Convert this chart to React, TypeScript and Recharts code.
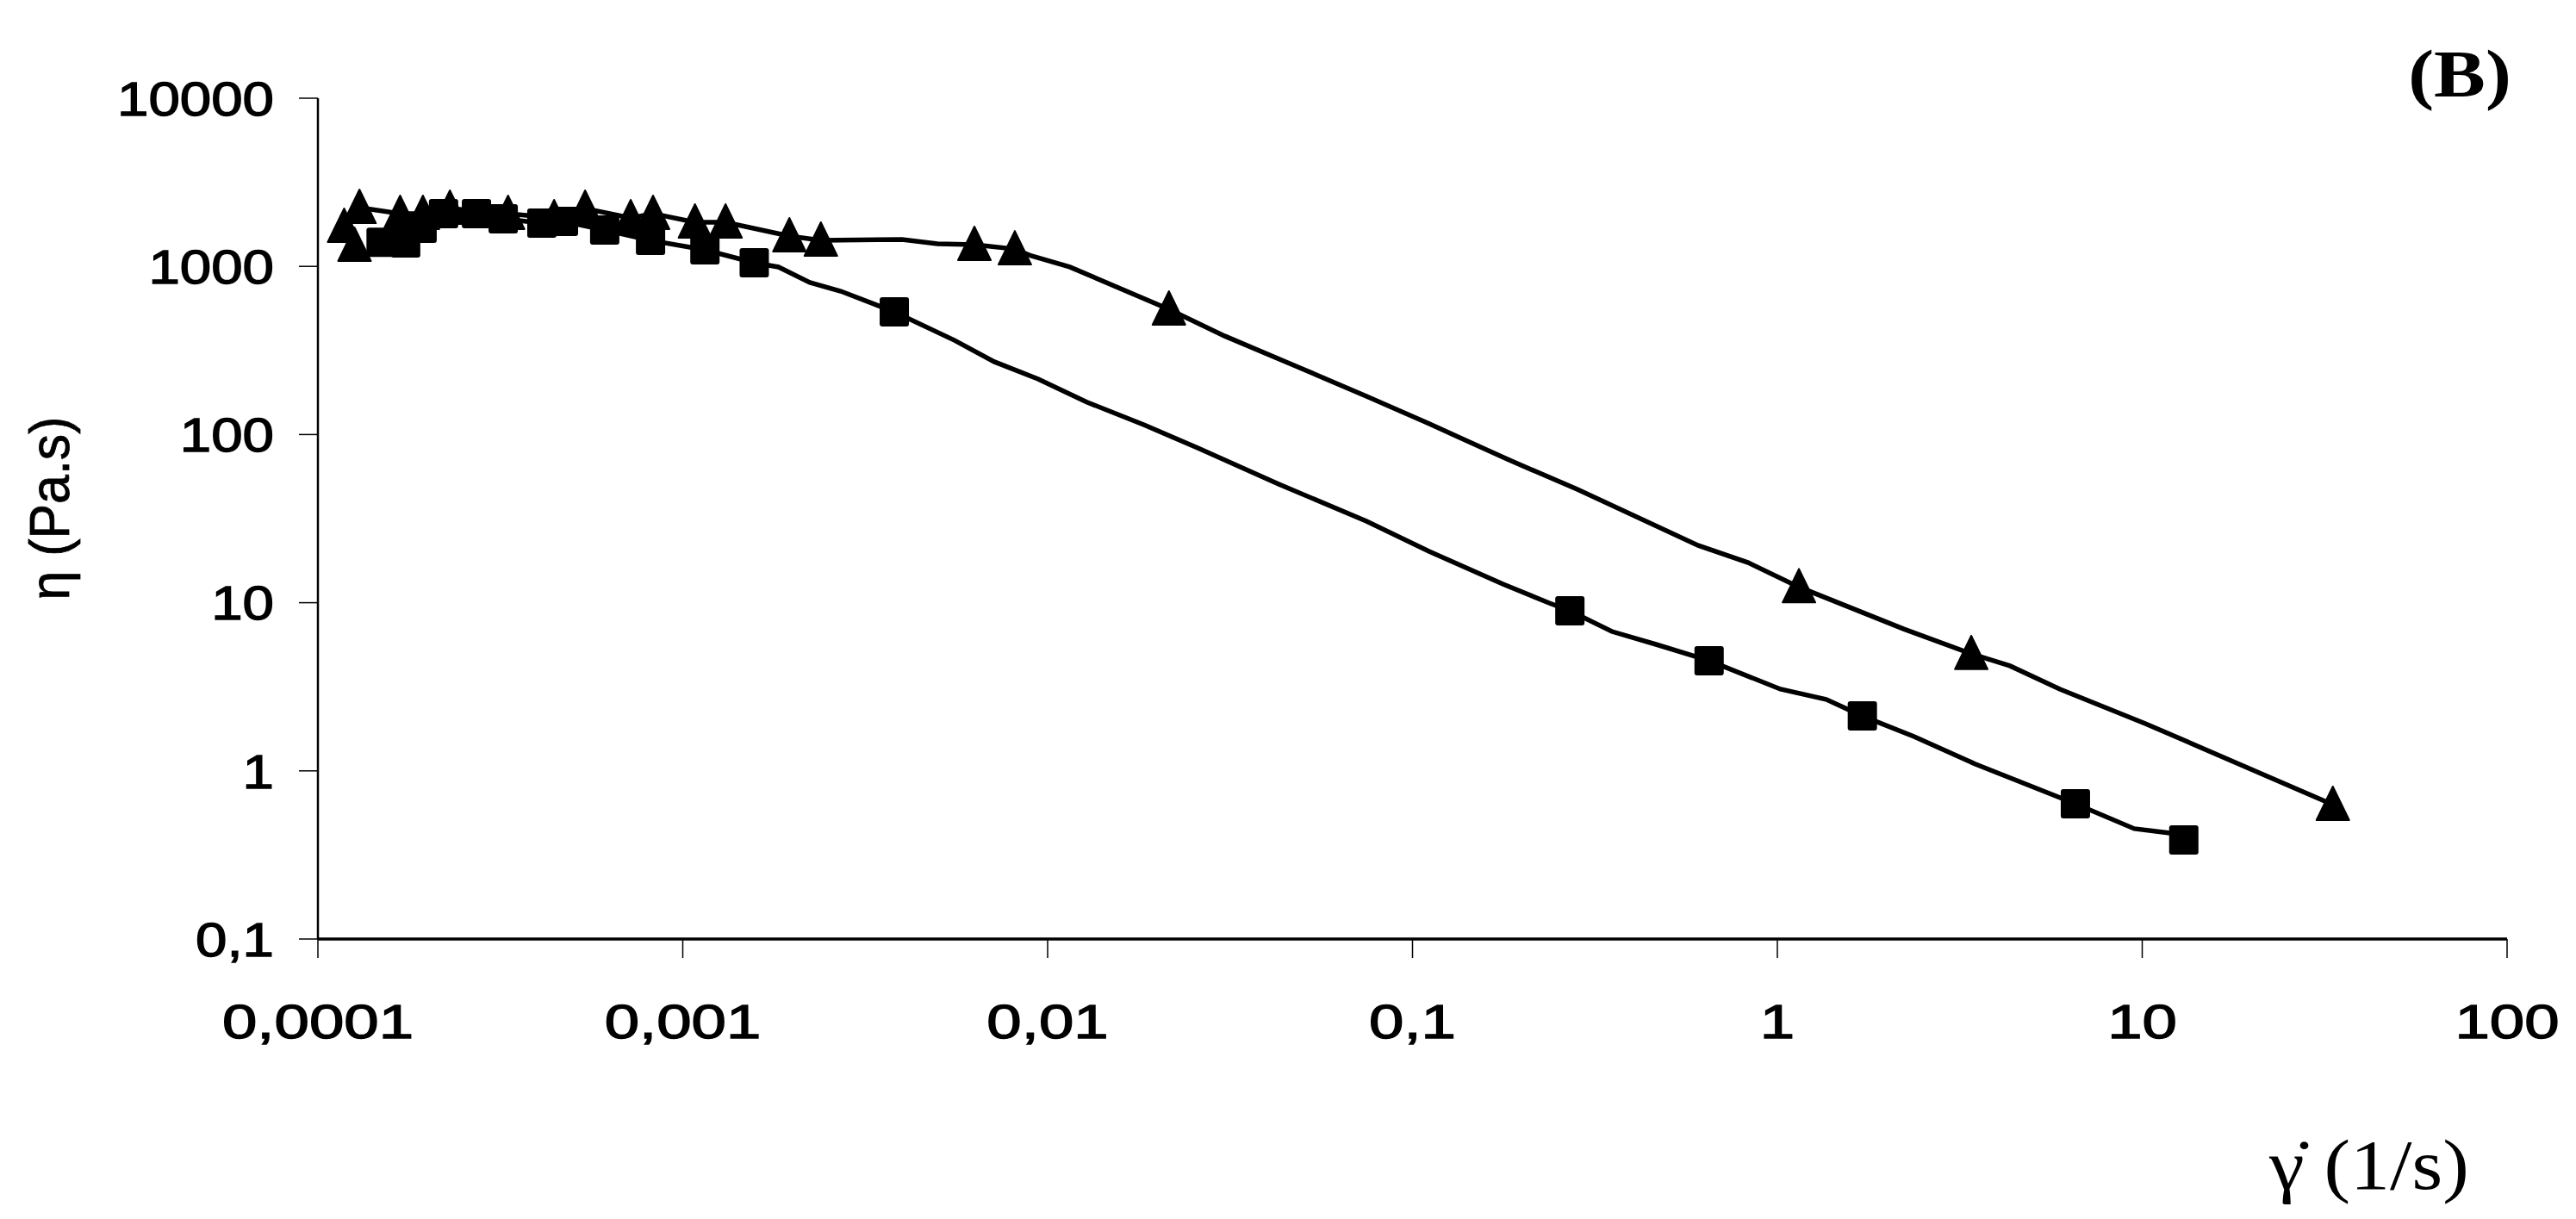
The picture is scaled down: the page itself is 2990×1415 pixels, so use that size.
import React from 'react';
import { ComposedChart, Scatter, XAxis, YAxis } from 'recharts';

// shear rate (1/s) / viscosity (Pa.s)
const triLineX = [1.18e-4, 1.3e-4, 1.68e-4, 1.94e-4, 2.3e-4, 3.32e-4, 4.44e-4, 5.4e-4, 7.2e-4, 8.29e-4, 1.08e-3, 1.31e-3, 1.96e-3, 2.39e-3, 3.99e-3, 4.99e-3, 6.3e-3, 8.13e-3, 9.02e-3, 1.15e-2, 2.15e-2, 3.06e-2, 4.79e-2, 7.48e-2, 0.111, 0.182, 0.283, 0.607, 0.832, 1.146, 2.22, 3.4, 4.34, 5.95, 10.2, 33.3];
const triLineY = [1725, 2234, 2060, 2060, 2210, 2060, 1940, 2210, 1940, 2060, 1830, 1830, 1515, 1428, 1445, 1362, 1346, 1268, 1155, 991, 556, 385, 255, 169, 116, 71.3, 47.2, 21.9, 17.3, 12.4, 6.98, 4.97, 4.21, 3.06, 1.91, 0.63];

const triMarkX = [1.18e-4, 1.26e-4, 1.3e-4, 1.68e-4, 1.94e-4, 2.3e-4, 3.32e-4, 4.44e-4, 5.4e-4, 7.2e-4, 8.29e-4, 1.08e-3, 1.31e-3, 1.96e-3, 2.39e-3, 6.3e-3, 8.13e-3, 2.15e-2, 1.146, 3.4, 33.3];
const triMarkY = [1725, 1330, 2234, 2060, 2060, 2210, 2060, 1940, 2210, 1940, 2060, 1830, 1830, 1515, 1428, 1346, 1268, 556, 12.4, 4.97, 0.63];

const sqLineX = [1.49e-4, 1.74e-4, 1.93e-4, 2.21e-4, 2.72e-4, 3.22e-4, 4.11e-4, 4.71e-4, 6.11e-4, 8.16e-4, 1.15e-3, 1.57e-3, 1.83e-3, 2.23e-3, 2.71e-3, 3.8e-3, 5.56e-3, 7.14e-3, 9.42e-3, 1.28e-2, 1.84e-2, 2.58e-2, 4.3e-2, 7.48e-2, 0.111, 0.177, 0.237, 0.27, 0.352, 0.465, 0.65, 1.02, 1.36, 1.71, 2.37, 3.48, 6.56, 9.51, 11.9, 13.0];
const sqLineY = [1390, 1378, 1683, 2059, 2059, 1918, 1808, 1851, 1644, 1428, 1254, 1051, 991, 802, 712, 537, 363, 271, 214, 156, 114, 83.2, 50.7, 30.5, 20.2, 12.9, 9.95, 8.95, 6.74, 5.65, 4.52, 3.06, 2.66, 2.12, 1.6, 1.1, 0.637, 0.453, 0.427, 0.388];

const sqMarkX = [1.49e-4, 1.74e-4, 1.93e-4, 2.21e-4, 2.72e-4, 3.22e-4, 4.11e-4, 4.71e-4, 6.11e-4, 8.16e-4, 1.15e-3, 1.57e-3, 3.8e-3, 0.27, 0.65, 1.71, 6.56, 13.0];
const sqMarkY = [1390, 1378, 1683, 2059, 2059, 1918, 1808, 1851, 1644, 1428, 1254, 1051, 537, 8.95, 4.52, 2.12, 0.637, 0.388];

const xTicks = [0.0001, 0.001, 0.01, 0.1, 1, 10, 100];
const xTickLabels = ['0,0001', '0,001', '0,01', '0,1', '1', '10', '100'];
const yTicks = [0.1, 1, 10, 100, 1000, 10000];
const yTickLabels = ['0,1', '1', '10', '100', '1000', '10000'];

const zip = (xs: number[], ys: number[]) => xs.map((x, i) => ({ x, y: ys[i] }));

const SANS = '"Liberation Sans", Arial, sans-serif';
const SERIF = '"Liberation Serif", "Times New Roman", serif';

const XTick = ({ x, y, payload }: any) => {
  const i = xTicks.indexOf(payload.value);
  return (
    <g transform={`translate(${x},${y + 91}) scale(1.32,1)`}>
      <text x={0} y={0} textAnchor="middle" fontFamily={SANS} fontSize={55} fill="#000" stroke="#000" strokeWidth={1.3}>
        {xTickLabels[i]}
      </text>
    </g>
  );
};

const YTick = ({ x, y, payload }: any) => {
  const i = yTicks.indexOf(payload.value);
  return (
    <g transform={`translate(${x - 27},${y}) scale(1.19,1)`}>
      <text x={0} y={0} dy="0.36em" textAnchor="end" fontFamily={SANS} fontSize={55} fill="#000" stroke="#000" strokeWidth={1.3}>
        {yTickLabels[i]}
      </text>
    </g>
  );
};

const Triangle = ({ cx, cy }: any) => (
  <path d={`M${cx},${cy - 21} L${cx + 19},${cy + 18} L${cx - 19},${cy + 18} Z`} fill="#000" stroke="#000" strokeWidth={2} strokeLinejoin="round" />
);

const Square = ({ cx, cy }: any) => (
  <rect x={cx - 17} y={cy - 17} width={34} height={34} rx={3} fill="#000" />
);

const Nothing = () => <g />;

export default function App() {
  return (
    <div style={{ width: 2974, height: 1399, position: 'relative', background: '#fff' }}>
      <ComposedChart width={2974} height={1399} margin={{ top: 106, right: 72, bottom: 197, left: 61 }}>
        <XAxis
          type="number"
          dataKey="x"
          scale="log"
          domain={[0.0001, 100]}
          ticks={xTicks}
          interval={0}
          height={120}
          tickSize={22}
          axisLine={{ stroke: '#000', strokeWidth: 3.5 }}
          tickLine={{ stroke: '#000', strokeWidth: 1.5 }}
          tick={<XTick />}
          allowDataOverflow
        />
        <YAxis
          type="number"
          dataKey="y"
          scale="log"
          domain={[0.1, 10000]}
          ticks={yTicks}
          interval={0}
          width={300}
          tickSize={22}
          axisLine={{ stroke: '#000', strokeWidth: 2.5 }}
          tickLine={{ stroke: '#000', strokeWidth: 1.5 }}
          tick={<YTick />}
          allowDataOverflow
        />
        <Scatter data={zip(sqLineX, sqLineY)} line={{ stroke: '#000', strokeWidth: 5.5 }} shape={<Nothing />} isAnimationActive={false} />
        <Scatter data={zip(triLineX, triLineY)} line={{ stroke: '#000', strokeWidth: 5.5 }} shape={<Nothing />} isAnimationActive={false} />
        <Scatter data={zip(sqMarkX, sqMarkY)} shape={<Square />} isAnimationActive={false} />
        <Scatter data={zip(triMarkX, triMarkY)} shape={<Triangle />} isAnimationActive={false} />
        <text transform="translate(72,582) rotate(-90) scale(0.95,1)" textAnchor="middle" fontFamily={SANS} fontSize={64} fill="#000" stroke="#000" strokeWidth={0.8}>
          η (Pa.s)
        </text>
        <text transform="translate(2847,104) scale(1.15,1)" textAnchor="middle" fontFamily={SERIF} fontWeight="bold" fontSize={78} fill="#000">
          (B)
        </text>
        <text transform="translate(2626,1372) scale(1.12,1)" textAnchor="start" fontFamily={SERIF} fontSize={82} fill="#000">
          γ̇ (1/s)
        </text>
      </ComposedChart>
    </div>
  );
}
